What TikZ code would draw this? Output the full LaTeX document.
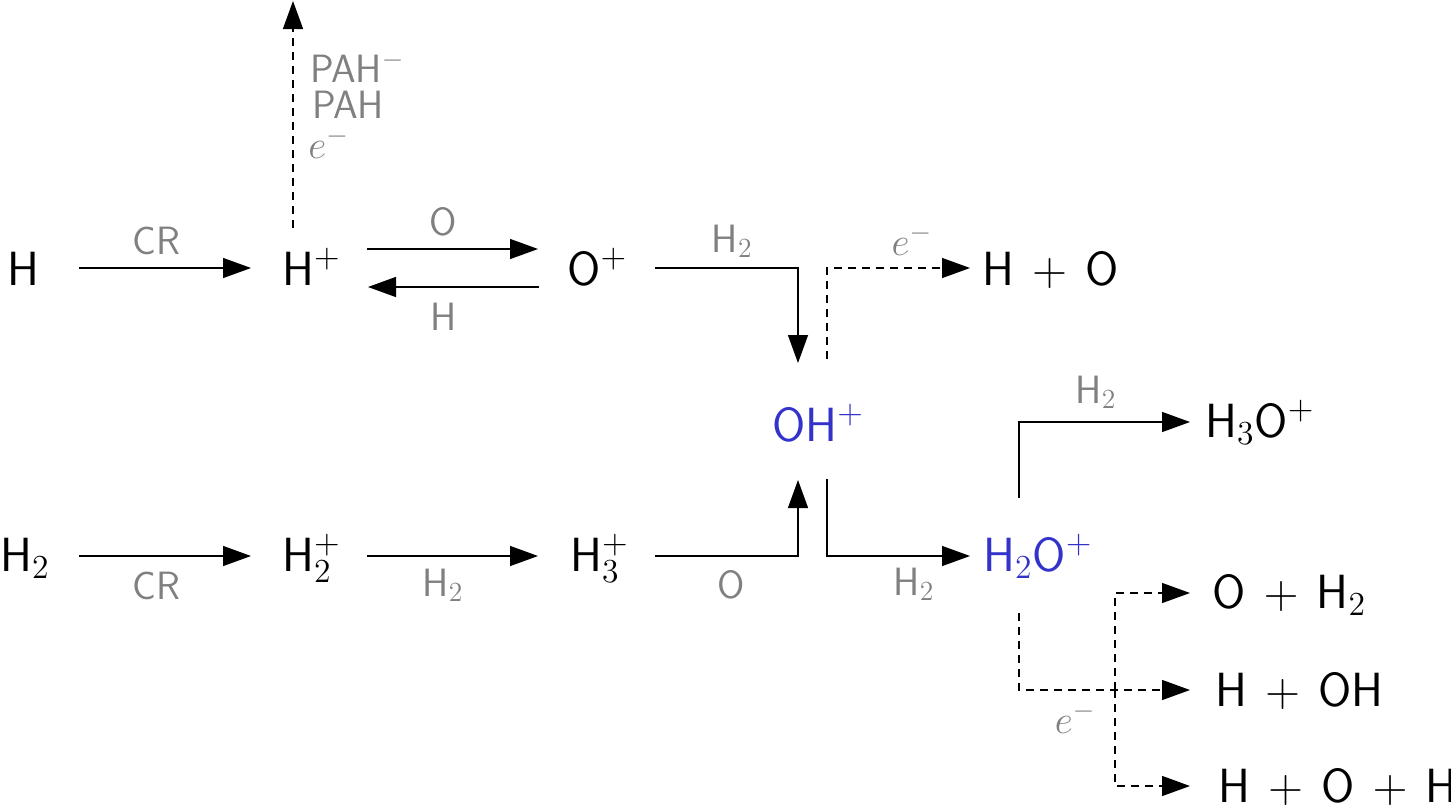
\RequirePackage{fix-cm}
\documentclass[tikz,border=0pt]{standalone}
\usetikzlibrary{arrows.meta,calc}
\definecolor{labelgray}{RGB}{128,128,128}
\definecolor{ionblue}{RGB}{51,51,204}
\tikzset{
  species/.style={font=\fontsize{24}{28}\selectfont\sffamily, inner sep=0pt, anchor=base west},
  lbl/.style={font=\fontsize{19.75}{23}\selectfont\sffamily, text=labelgray, inner sep=0pt, anchor=base},
  arr/.style={line width=0.65pt, -{Triangle[length=14pt,width=10pt]}},
  darr/.style={arr, dash pattern=on 4pt off 3pt},
}
\newcommand{\pl}{\hspace{0.38em}$+$\hspace{0.38em}}
\begin{document}
\begin{tikzpicture}[x=0.5pt,y=-0.5pt]
\useasboundingbox (0,0) rectangle (1451,805);
% species
\node[species] (H) at (7,285) {H};
\node[species] (Hp) at (282,285) {H$^+$};
\node[species] (Op) at (567,285) {O$^+$};
\node[species] (HO) at (982,285) {H\pl O};
\node[species, text=ionblue] (OHp) at (772,441) {OH$^+$};
\node[species] (H3Op) at (1205,437) {H$_3$O$^+$};
\node[species] (H2) at (0,571) {H$_2$};
\node[species] (H2p) at (282,571) {H$_2^+$};
\node[species] (H3p) at (570,571) {H$_3^+$};
\node[species, text=ionblue] (H2Op) at (983,571) {H$_2$O$^+$};
\node[species] (OH2) at (1212,608) {O\pl H$_2$};
\node[species] (HOH) at (1215,706) {H\pl OH};
\node[species] (HOHH) at (1218,802) {H\pl O\pl H};
% PAH labels
\node[lbl, anchor=base west] (l1) at (310,82) {PAH$^-$};
\node[lbl, anchor=base west] (l2) at (312,118) {PAH};
\node[lbl, anchor=base west] (l3) at (308,158) {$e^-$};
% arrows
\draw[arr] ($(H.base west)+(72,-17)$) -- ($(Hp.base west)+(-31,-17)$)
  node[lbl, pos=.45, yshift=7pt] (c1) {CR};
\draw[darr] ($(Hp.base west)+(11,-57)$) -- ($(Hp.base west)+(11,-284)$);
\draw[arr] ($(Hp.base west)+(85,-36)$) -- ($(Op.base west)+(-29,-36)$)
  node[lbl, pos=.444, yshift=7pt] (c2) {O};
\draw[arr] ($(Op.base west)+(-28,2)$) -- ($(Hp.base west)+(86,2)$)
  node[lbl, pos=.56, yshift=-21.5pt] (c3) {H};
\draw[arr] ($(Op.base west)+(88,-17)$) -| ($(OHp.base west)+(26,-78)$)
  node[lbl, pos=.27, yshift=8pt] (c4) {H$_2$};
\draw[darr] ($(OHp.base west)+(55,-82)$) |- ($(HO.base west)+(-12,-17)$)
  node[lbl, pos=.797, yshift=6.5pt] (c5) {$e^-$};
\draw[arr] ($(H3p.base west)+(85,-15)$) -| ($(OHp.base west)+(26,39)$)
  node[lbl, pos=.266, yshift=-21pt] (c6) {O};
\draw[arr] ($(OHp.base west)+(55,38)$) |- ($(H2Op.base west)+(-13,-15)$)
  node[lbl, pos=.804, yshift=-19.5pt] (c7) {H$_2$};
\draw[arr] ($(H2Op.base west)+(36,-73)$) |- ($(H3Op.base west)+(-15,-15)$)
  node[lbl, pos=.725, yshift=9.5pt] (c8) {H$_2$};
\draw[arr] ($(H2.base west)+(79,-15)$) -- ($(H2p.base west)+(-31,-15)$)
  node[lbl, pos=.45, yshift=-21.5pt] (c9) {CR};
\draw[arr] ($(H2p.base west)+(85,-15)$) -- ($(H3p.base west)+(-32,-15)$)
  node[lbl, pos=.444, yshift=-20pt] (c10) {H$_2$};
\draw[darr] ($(H2Op.base west)+(36,42)$) |- ($(HOH.base west)+(-25,-16)$)
  node[lbl, pos=.664, yshift=-21.5pt] (c11) {$e^-$};
\coordinate (br) at ($(H2Op.base west)+(132,119)$);
\draw[darr] (br) |- ($(OH2.base west)+(-22,-15)$);
\draw[darr] (br) |- ($(HOHH.base west)+(-28,-16)$);
\end{tikzpicture}
\end{document}
